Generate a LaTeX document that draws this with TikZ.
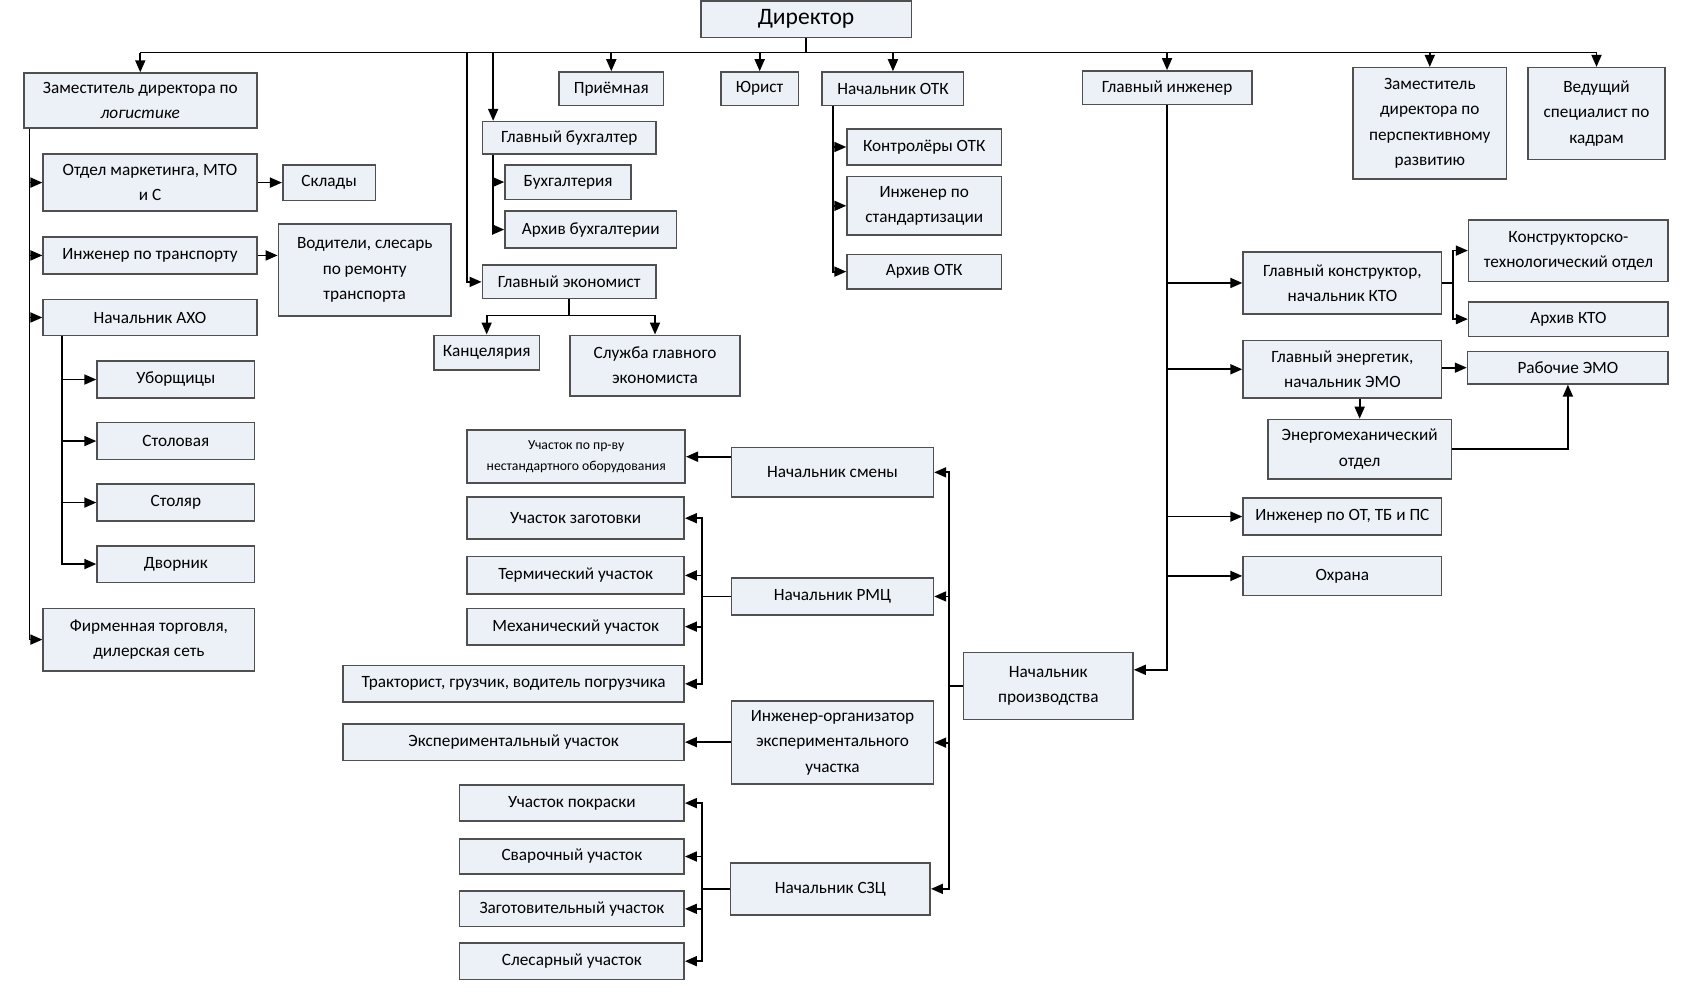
\documentclass[tikz,border=0pt]{standalone}
\usepackage{fontspec}
\setmainfont{Carlito}
\usetikzlibrary{arrows.meta,calc}
\definecolor{boxfill}{RGB}{236,241,247}
\definecolor{boxline}{RGB}{80,80,80}
\tikzset{
	box/.style={draw=boxline, fill=boxfill, line width=0.45pt, align=center, inner sep=1pt, font=\fontsize{4.9}{7.2}\selectfont},
	arr/.style={-{Triangle[length=1.2mm,width=1mm]}},
	wd/.style={minimum width=#1*0.1079mm},
	ht/.style={minimum height=#1*0.1079mm}
}
\begin{document}
\begin{tikzpicture}[x=0.1079mm, y=-0.1079mm, line width=0.5pt]
	\path[fill=white] (0,0) rectangle (1568,933);
	
	\node[box, wd=195, ht=34, font=\fontsize{6.7}{8}\selectfont] (dir) at (747,17) {Директор};
	
	\node[box, wd=216, ht=51] (zlog) at (130,92.5) {Заместитель директора по\\\textit{логистике}};
	\node[box, wd=198, ht=53] (mark) at (139,168.5) {Отдел маркетинга, МТО\\и С};
	\node[box, wd=86, ht=33] (sklad) at (305,168.5) {Склады};
	\node[box, wd=198, ht=34] (itrans) at (139,236) {Инженер по транспорту};
	\node[box, wd=160, ht=85] (vodit) at (338,249.5) {Водители, слесарь\\по ремонту\\транспорта};
	\node[box, wd=198, ht=33] (aho) at (139,293.5) {Начальник АХО};
	\node[box, wd=146, ht=34] (ubor) at (163,351) {Уборщицы};
	\node[box, wd=146, ht=34] (stol) at (163,408) {Столовая};
	\node[box, wd=146, ht=34] (stolyar) at (163,465) {Столяр};
	\node[box, wd=146, ht=34] (dvor) at (163,522) {Дворник};
	\node[box, wd=196, ht=58] (firm) at (138,592) {Фирменная торговля,\\дилерская сеть};
	
	\node[box, wd=97, ht=31] (priem) at (566.5,81.5) {Приёмная};
	\node[box, wd=72, ht=31] (yurist) at (704,81.5) {Юрист};
	\node[box, wd=131, ht=31] (otk) at (827.5,81.5) {Начальник ОТК};
	\node[box, wd=161, ht=30] (gbuh) at (527.5,127) {Главный бухгалтер};
	\node[box, wd=117, ht=32] (buh) at (526.5,168) {Бухгалтерия};
	\node[box, wd=159, ht=34] (arhbuh) at (547.5,212) {Архив бухгалтерии};
	\node[box, wd=161, ht=31] (gecon) at (527.5,260.5) {Главный экономист};
	\node[box, wd=98, ht=32] (kanc) at (451,326) {Канцелярия};
	\node[box, wd=158, ht=56] (sluzh) at (607,338) {Служба главного\\экономиста};
	\node[box, wd=143, ht=33] (kontr) at (856.5,135.5) {Контролёры ОТК};
	\node[box, wd=143, ht=54] (istand) at (856.5,190) {Инженер по\\стандартизации};
	\node[box, wd=143, ht=32] (arhotk) at (856.5,251) {Архив ОТК};
	
	\node[box, wd=157, ht=31] (ging) at (1081.5,80.5) {Главный инженер};
	\node[box, wd=142, ht=103] (zpersp) at (1325,113.5) {Заместитель\\директора по\\перспективному\\развитию};
	\node[box, wd=127, ht=85] (vedsp) at (1479.5,104.5) {Ведущий\\специалист по\\кадрам};
	\node[box, wd=184, ht=57] (gkonstr) at (1244,261.5) {Главный конструктор,\\начальник КТО};
	\node[box, wd=185, ht=57] (kto) at (1453.5,231.5) {Конструкторско-\\технологический отдел};
	\node[box, wd=185, ht=32] (arhkto) at (1453.5,295) {Архив КТО};
	\node[box, wd=184, ht=53] (generg) at (1244,341.5) {Главный энергетик,\\начальник ЭМО};
	\node[box, wd=186, ht=30] (rabemo) at (1453,340) {Рабочие ЭМО};
	\node[box, wd=170, ht=55] (energomeh) at (1260,415.5) {Энергомеханический\\отдел};
	\node[box, wd=184, ht=34] (iot) at (1244,478) {Инженер по ОТ, ТБ и ПС};
	\node[box, wd=184, ht=36] (ohrana) at (1244,533) {Охрана};
	
	\node[box, wd=157, ht=62] (nproizv) at (971.5,635) {Начальник\\производства};
	\node[box, wd=187, ht=46] (nsmen) at (771.5,437) {Начальник смены};
	\node[box, wd=202, ht=49, font=\fontsize{3.9}{6}\selectfont] (uchnest) at (534,422.5) {Участок по пр-ву\\нестандартного оборудования};
	\node[box, wd=187, ht=34] (nrmc) at (771.5,552) {Начальник РМЦ};
	\node[box, wd=201, ht=39] (uzag) at (533.5,479.5) {Участок заготовки};
	\node[box, wd=201, ht=35] (term) at (533.5,532.5) {Термический участок};
	\node[box, wd=201, ht=34] (meh) at (533.5,580) {Механический участок};
	\node[box, wd=316, ht=34] (trakt) at (476,633) {Тракторист, грузчик, водитель погрузчика};
	\node[box, wd=187, ht=77] (ieo) at (771.5,687.5) {Инженер-организатор\\экспериментального\\участка};
	\node[box, wd=316, ht=34] (exper) at (476,687) {Экспериментальный участок};
	\node[box, wd=185, ht=48] (nszc) at (769.5,823) {Начальник СЗЦ};
	\node[box, wd=208, ht=33] (pokr) at (530,743.5) {Участок покраски};
	\node[box, wd=208, ht=32] (svar) at (530,793) {Сварочный участок};
	\node[box, wd=208, ht=33] (zagot) at (530,841.5) {Заготовительный участок};
	\node[box, wd=208, ht=34] (slesar) at (530,890) {Слесарный участок};
	
	\coordinate (bus) at (0,48);
	\coordinate (econsp) at (433,48);
	\coordinate (buhsp) at (457,48);
	\draw (dir.south) -- (dir.south |- bus);
	\draw (zlog.north |- bus) -- (vedsp.north |- bus);
	\foreach \n in {zlog,priem,yurist,otk,ging,zpersp,vedsp}{
		\draw[arr] (\n.north |- bus) -- (\n.north);
	}
	
	\foreach \n in {mark,itrans,aho,firm}{
		\draw[arr] ($(zlog.south west)+(6,0)$) |- (\n);
	}
	\draw[arr] (mark) -- (sklad);
	\draw[arr] (itrans.east) -- (itrans.east -| vodit.west);
	\foreach \n in {ubor,stol,stolyar,dvor}{
		\draw[arr] ($(aho.south west)+(18,0)$) |- (\n);
	}
	
	\draw[arr] (econsp) |- (gecon);
	\draw[arr] (buhsp) -- (buhsp |- gbuh.north);
	\draw[arr] (buhsp |- gbuh.south) |- (buh);
	\draw[arr] (buhsp |- gbuh.south) |- (arhbuh);
	\draw[arr] (gecon.south) -- ++(0,15) -| (kanc);
	\draw[arr] (gecon.south) -- ++(0,15) -| (sluzh);
	\foreach \n in {kontr,istand,arhotk}{
		\draw[arr] ($(otk.south west)+(11,0)$) |- (\n);
	}
	
	\draw[arr] (ging.south) |- ($(nproizv.east)+(0,-15)$);
	\foreach \n in {gkonstr,generg,iot,ohrana}{
		\draw[arr] (ging.south |- \n) -- (\n);
	}
	\draw (gkonstr.east) -- ++(10,0) coordinate (ktosp);
	\draw[arr] (ktosp) |- (kto);
	\draw[arr] (ktosp) |- (arhkto);
	\draw[arr] (generg.east |- rabemo) -- (rabemo);
	\draw[arr] (energomeh.north |- generg.south) -- (energomeh.north);
	\draw[arr] (energomeh.east) -| (rabemo.south);
	
	\draw (nproizv.west) -- ++(-13,0) coordinate (prsp);
	\foreach \n in {nsmen,nrmc,ieo,nszc}{
		\draw[arr] (prsp) |- (\n);
	}
	\draw[arr] (nsmen.west |- uchnest) -- (uchnest);
	\draw (nrmc.west) -- ++(-27,0) coordinate (rmcsp);
	\foreach \n in {uzag,term,meh,trakt}{
		\draw[arr] (rmcsp) |- (\n);
	}
	\draw[arr] (ieo.west |- exper) -- (exper);
	\draw (nszc.west) -- ++(-26,0) coordinate (szcsp);
	\foreach \n in {pokr,svar,zagot,slesar}{
		\draw[arr] (szcsp) |- (\n);
	}
\end{tikzpicture}
\end{document}
